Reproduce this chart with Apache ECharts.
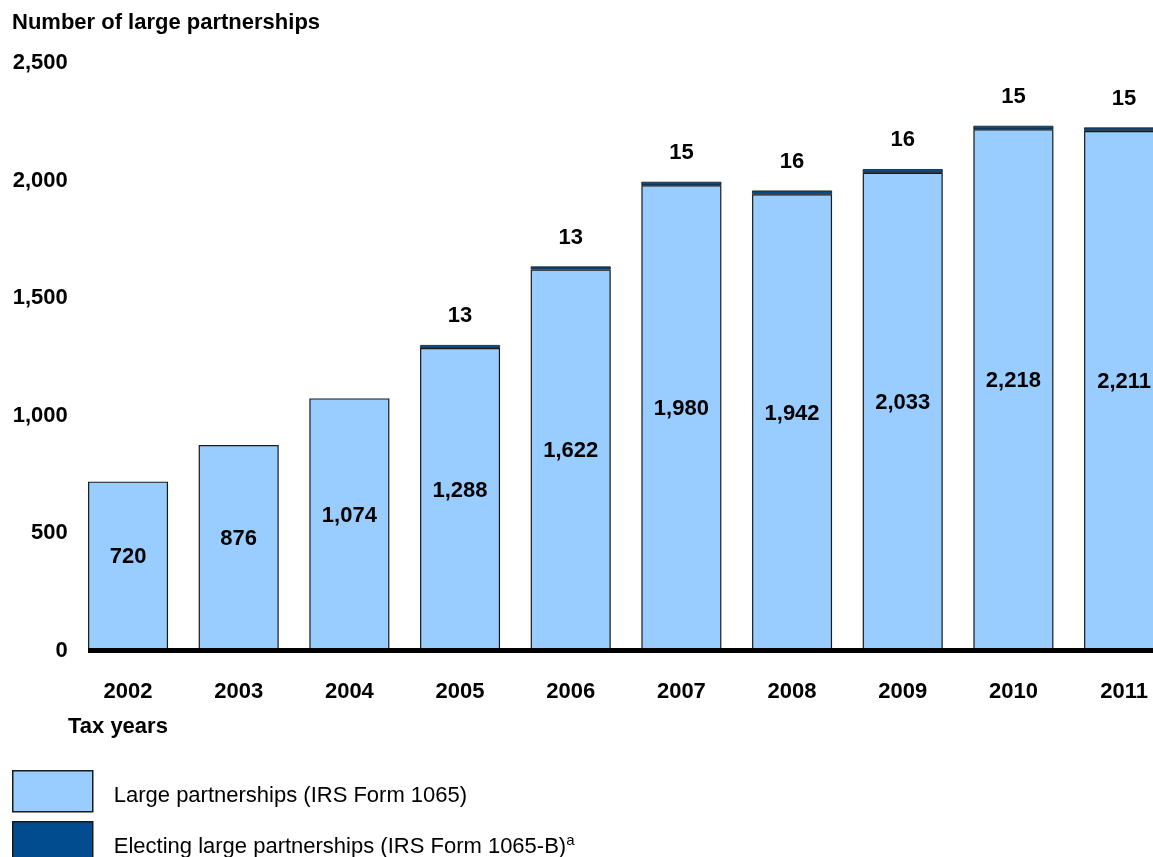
<!DOCTYPE html>
<html>
<head>
<meta charset="utf-8">
<script src="https://cdn.jsdelivr.net/npm/echarts@6/dist/echarts.min.js"></script>
<style>
  html, body { margin: 0; padding: 0; background: #fff; }
  #chart { width: 1153px; height: 857px; }
</style>
</head>
<body>
<div id="chart"></div>
<script>
// Tax years on the category axis
const years = ['2002', '2003', '2004', '2005', '2006', '2007', '2008', '2009', '2010', '2011'];
// Large partnerships filing IRS Form 1065
const largePartnerships = [720, 876, 1074, 1288, 1622, 1980, 1942, 2033, 2218, 2211];
// Electing large partnerships filing IRS Form 1065-B (none shown before 2005)
const electingPartnerships = ['-', '-', '-', 13, 13, 15, 16, 16, 15, 15];
// Value axis ticks
const yMax = 2500;
const yStep = 500;

const FONT = '"Liberation Sans", Arial, Helvetica, sans-serif';
const FS = 22;
const LIGHT = '#99ccff';
const DARK = '#004c8f';
const EDGE = '#1a1a1a';
const BAR_W = 80;
const NAME_1065 = 'Large partnerships (IRS Form 1065)';
const NAME_1065B = 'Electing large partnerships (IRS Form 1065-B)';

const chart = echarts.init(document.getElementById('chart'), null, { renderer: 'canvas' });

// One legend block per series so the two keys stack vertically
function legendBlock(name, color, top) {
  return {
    orient: 'vertical',
    left: 12,
    top: top,
    padding: 0,
    itemWidth: 80,
    itemHeight: 41,
    selectedMode: false,
    textStyle: {
      fontFamily: FONT,
      fontSize: FS,
      color: '#000',
      padding: [10, 0, 0, 16],
      rich: {
        sup: { fontFamily: FONT, fontSize: 15, verticalAlign: 'top', padding: [0, 0, 12, 0], color: '#000' }
      }
    },
    formatter: function (n) {
      return n === NAME_1065B ? n + '{sup|a}' : n;
    },
    data: [{ name: name, icon: 'rect', itemStyle: { color: color, borderColor: EDGE, borderWidth: 1.5 } }]
  };
}

const option = {
  backgroundColor: '#ffffff',
  animation: false,
  textStyle: { fontFamily: FONT },
  grid: { left: 72.7, top: 63, bottom: 206, width: 1106.7, containLabel: false, outerBoundsMode: 'none' },
  title: {
    text: 'Number of large partnerships',
    left: 12,
    top: 12,
    padding: 0,
    textStyle: { fontFamily: FONT, fontSize: FS, fontWeight: 'bold', color: '#000' }
  },
  legend: [
    legendBlock(NAME_1065, LIGHT, 770),
    legendBlock(NAME_1065B, DARK, 821)
  ],
  xAxis: {
    type: 'category',
    data: years,
    axisLine: { show: false },
    axisTick: { show: false },
    axisLabel: { fontFamily: FONT, fontSize: FS, fontWeight: 'bold', color: '#000', margin: 30 }
  },
  yAxis: {
    type: 'value',
    min: 0,
    max: yMax,
    interval: yStep,
    axisLine: { show: false },
    axisTick: { show: false },
    splitLine: { show: false },
    axisLabel: {
      fontFamily: FONT, fontSize: FS, fontWeight: 'bold', color: '#000', margin: 5,
      padding: [3, 0, 0, 0],
      formatter: function (v) { return v.toLocaleString('en-US'); }
    }
  },
  series: [
    {
      name: NAME_1065,
      type: 'bar',
      stack: 'total',
      barWidth: BAR_W,
      data: largePartnerships,
      itemStyle: { color: LIGHT, borderColor: EDGE, borderWidth: 1.2 },
      label: {
        show: true,
        position: 'inside',
        offset: [0, -9],
        fontFamily: FONT, fontSize: FS, fontWeight: 'bold', color: '#000',
        formatter: function (p) { return p.value.toLocaleString('en-US'); }
      },
      z: 2
    },
    {
      name: NAME_1065B,
      type: 'bar',
      stack: 'total',
      barWidth: BAR_W,
      data: electingPartnerships,
      itemStyle: { color: DARK, borderColor: EDGE, borderWidth: 0.8 },
      label: {
        show: true,
        position: 'top',
        distance: 18,
        fontFamily: FONT, fontSize: FS, fontWeight: 'bold', color: '#000',
        formatter: function (p) { return p.value; }
      },
      z: 3
    }
  ]
};

chart.setOption(option);

// Heavy baseline at zero, starting at the left edge of the first bar, plus the axis caption
const zeroPt = chart.convertToPixel({ seriesIndex: 0 }, [0, 0]);
chart.setOption({
  graphic: [
    {
      type: 'rect',
      shape: { x: zeroPt[0] - BAR_W / 2, y: zeroPt[1] - 3, width: chart.getWidth(), height: 5 },
      style: { fill: '#000' },
      z: 10
    },
    {
      type: 'text',
      left: 68,
      top: 716,
      style: { text: 'Tax years', fontFamily: FONT, fontSize: FS, fontWeight: 'bold', fill: '#000' }
    }
  ]
});
</script>
</body>
</html>
